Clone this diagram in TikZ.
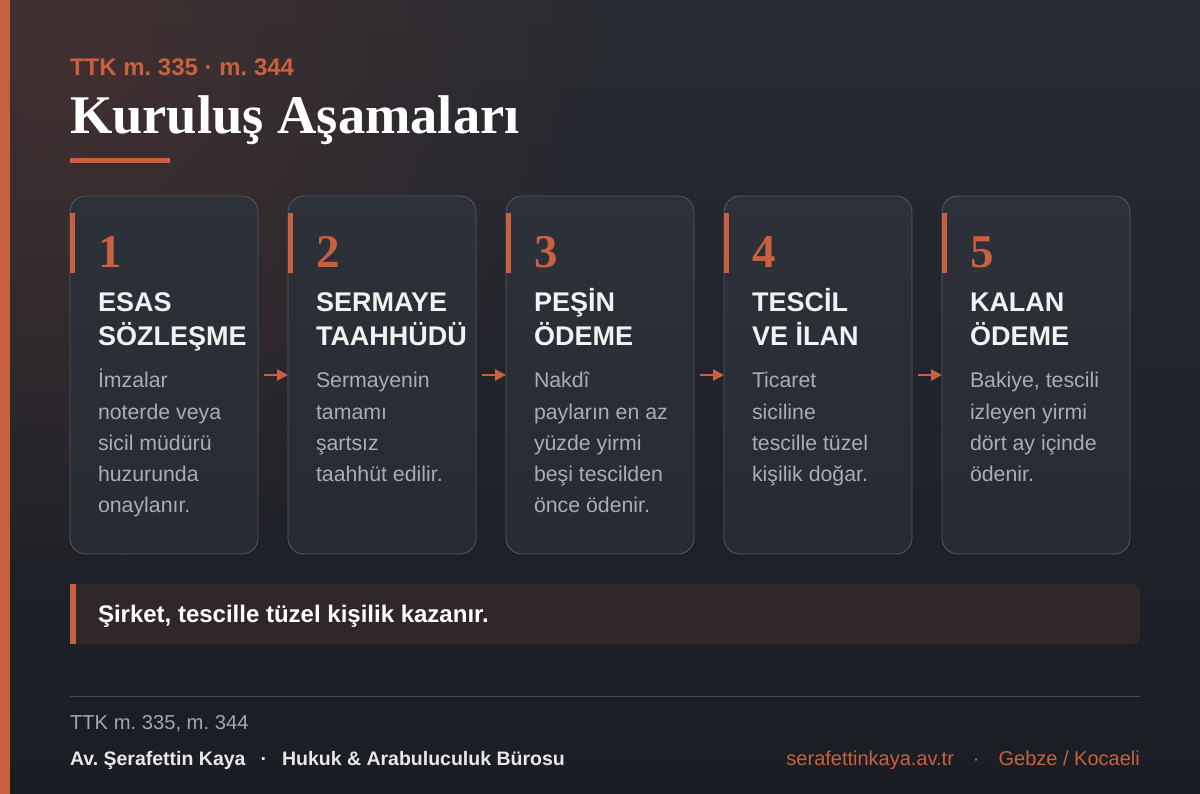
\documentclass[tikz,border=0pt]{standalone}
\usepackage{fontspec}
\setmainfont{Liberation Sans}
\newfontfamily\titleserif{Liberation Serif}
\usetikzlibrary{arrows.meta,fadings}
\definecolor{accent}{HTML}{C8613F}
\definecolor{bgtop}{HTML}{282B32}
\definecolor{bgbot}{HTML}{1A1D24}
\definecolor{glow}{HTML}{4A3230}
\definecolor{cardtop}{HTML}{2D3139}
\definecolor{cardbot}{HTML}{272A31}
\definecolor{cardline}{HTML}{555962}
\definecolor{headc}{HTML}{F2F2F2}
\definecolor{bodyc}{HTML}{A8ADB6}
\definecolor{notefill}{HTML}{30272A}
\definecolor{footgray}{HTML}{A2A6AE}
\definecolor{footbold}{HTML}{E8E8E8}
\definecolor{ruleline}{HTML}{4A4D55}
\tikzfading[name=glowfade, inner color=transparent!25, outer color=transparent!100]
\tikzset{
  card/.style={draw=cardline, line width=0.8pt, top color=cardtop, bottom color=cardbot,
    rounded corners=16pt, minimum width=188pt, minimum height=358pt, inner sep=0pt, outer sep=0pt},
  txt/.style={anchor=base west, inner sep=0pt, outer sep=0pt},
  numtxt/.style={txt, text=accent, font=\titleserif\bfseries\fontsize{47}{50}\selectfont},
  headtxt/.style={txt, text=headc, font=\bfseries\fontsize{27}{32}\selectfont},
  bodytxt/.style={txt, text=bodyc, font=\fontsize{21.3}{26}\selectfont},
  flow/.style={draw=accent, line width=2.6pt, -{Triangle[length=11pt,width=11pt]}},
  note/.style={fill=notefill, rounded corners=8pt, minimum width=1070pt, minimum height=60pt, inner sep=0pt, outer sep=0pt}
}
\newcommand\stepcard[6]{%
  \node[card] (c#1) at (#2+94,375) {};
  \fill[accent] (#2,213) rectangle (#2+5,273);
  \node[numtxt] (n#1) at (#2+28,268) {#3};
  \node[headtxt] (h#1a) at (#2+28,312) {#4};
  \node[headtxt] (h#1b) at (#2+28,346) {#5};
  \foreach \t [count=\i from 0] in {#6} {
    \node[bodytxt] (b#1-\i) at (#2+28,388+31*\i) {\t};
  }
}
\begin{document}
\frenchspacing
\begin{tikzpicture}[x=1pt,y=-1pt]
\useasboundingbox (0,0) rectangle (1200,794);
% background
\shade[top color=bgtop, bottom color=bgbot] (0,0) rectangle (1200,794);
\begin{scope}
  \clip (0,0) rectangle (1200,794);
  \fill[glow, path fading=glowfade] (60,40) circle (560);
\end{scope}
\fill[accent] (0,0) rectangle (10,794);
% header
\node[txt, text=accent, font=\bfseries\fontsize{24}{26}\selectfont] (sub) at (70,76) {TTK m. 335 · m. 344};
\node[txt, text=white, font=\titleserif\bfseries\fontsize{54.5}{60}\selectfont] (title) at (70,134) {Kuruluş Aşamaları};
\fill[accent] (70,158) rectangle (170,163);
% cards
\stepcard{1}{70}{1}{ESAS}{SÖZLEŞME}{İmzalar, noterde veya, sicil müdürü, huzurunda, onaylanır.}
\stepcard{2}{288}{2}{SERMAYE}{TAAHHÜDÜ}{Sermayenin, tamamı, şartsız, taahhüt edilir.}
\stepcard{3}{506}{3}{PEŞİN}{ÖDEME}{Nakdî, payların en az, yüzde yirmi, beşi tescilden, önce ödenir.}
\stepcard{4}{724}{4}{TESCİL}{VE İLAN}{Ticaret, siciline, tescille tüzel, kişilik doğar.}
\stepcard{5}{942}{5}{KALAN}{ÖDEME}{{Bakiye, tescili}, izleyen yirmi, dört ay içinde, ödenir.}
% arrows
\foreach \a/\b in {1/2,2/3,3/4,4/5}
  \draw[flow] ([xshift=6pt]c\a.east) -- (c\b.west);
% note
\node[note] (note) at (605,614) {};
\fill[notefill] (70,584) rectangle (90,644);
\fill[accent] (70,584) rectangle (76,644);
\node[txt, text=white, font=\bfseries\fontsize{24}{28}\selectfont] (notetext) at (98,622) {Şirket, tescille tüzel kişilik kazanır.};
% footer
\coordinate (fl) at (70,696);
\coordinate (fr) at (1140,696);
\draw[ruleline, line width=1pt] (fl) -- (fr);
\node[txt, text=footgray, font=\fontsize{20.2}{24}\selectfont] (ref) at (70,729) {TTK m. 335, m. 344};
\node[txt, text=footbold, font=\bfseries\fontsize{19.5}{24}\selectfont] (author) at (70,765) {Av. Şerafettin Kaya\hspace{15pt}·\hspace{15pt}Hukuk \& Arabuluculuk Bürosu};
\node[anchor=base east, inner sep=0pt, text=accent, font=\fontsize{20}{24}\selectfont] (site) at (1140,765) {serafettinkaya.av.tr\hspace{19pt}·\hspace{19pt}Gebze / Kocaeli};
\end{tikzpicture}
\end{document}
